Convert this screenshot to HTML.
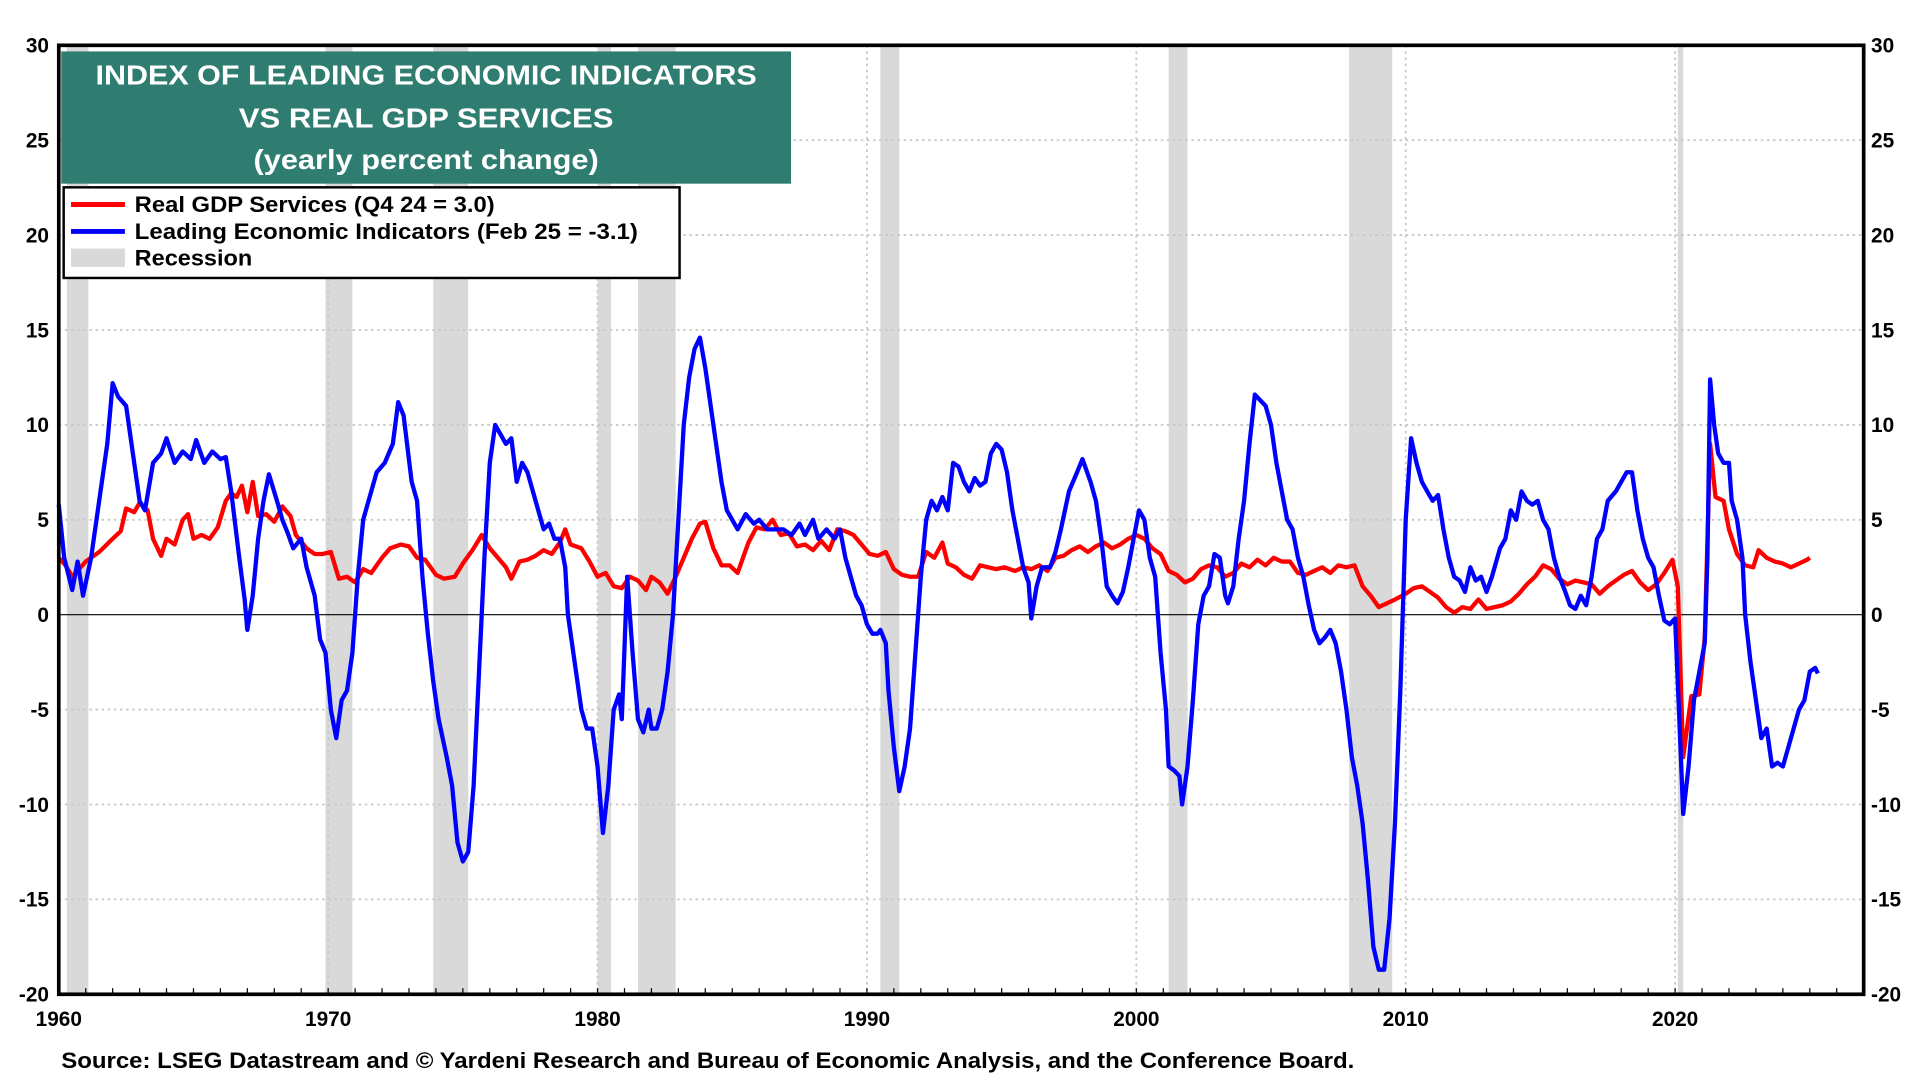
<!DOCTYPE html>
<html><head><meta charset="utf-8"><style>
html,body{margin:0;padding:0;background:#fff;}
svg{display:block;}
text{font-family:"Liberation Sans",Arial,sans-serif;font-weight:bold;}
</style></head><body>
<svg id="chart" width="1920" height="1080" viewBox="0 0 1568 882" preserveAspectRatio="none" xmlns="http://www.w3.org/2000/svg">
<g id="recessions"></g>
<g id="grid"></g>
<line x1="48" x2="1522" y1="502" y2="502" stroke="#000" stroke-width="1"/>
<g id="series"></g>
<rect x="48" y="37" width="1474" height="775" fill="none" stroke="#000" stroke-width="3"/>
<g id="axes"></g>
<g>
<rect x="50" y="42" width="596" height="108" fill="#2e7d70"/>
<text x="348" y="69" fill="#fff" font-size="23" text-anchor="middle" textLength="540" lengthAdjust="spacingAndGlyphs">INDEX OF LEADING ECONOMIC INDICATORS</text>
<text x="348" y="104" fill="#fff" font-size="23" text-anchor="middle" textLength="306" lengthAdjust="spacingAndGlyphs">VS REAL GDP SERVICES</text>
<text x="348" y="138" fill="#fff" font-size="23" text-anchor="middle" textLength="282" lengthAdjust="spacingAndGlyphs">(yearly percent change)</text>
</g>
<g>
<rect x="52" y="153" width="503" height="74" fill="#fff" stroke="#000" stroke-width="2"/>
<line x1="58" x2="102" y1="167" y2="167" stroke="#ff0000" stroke-width="4"/>
<text x="110" y="173" font-size="18" textLength="294" lengthAdjust="spacingAndGlyphs">Real GDP Services (Q4 24 = 3.0)</text>
<line x1="58" x2="102" y1="189" y2="189" stroke="#0000ff" stroke-width="4"/>
<text x="110" y="195" font-size="18" textLength="411" lengthAdjust="spacingAndGlyphs">Leading Economic Indicators (Feb 25 = -3.1)</text>
<rect x="58" y="203" width="44" height="15" fill="#d9d9d9"/>
<text x="110" y="217" font-size="18" textLength="96" lengthAdjust="spacingAndGlyphs">Recession</text>
</g>
<text x="50" y="872" font-size="18" textLength="1056" lengthAdjust="spacingAndGlyphs">Source: LSEG Datastream and © Yardeni Research and Bureau of Economic Analysis, and the Conference Board.</text>
</svg>
<script>
const recStart=[1960.3,1969.9,1973.9,1980.0,1981.5,1990.5,2001.2,2007.9,2020.1];
const recEnd=[1961.1,1970.9,1975.2,1980.5,1982.9,1991.2,2001.9,2009.5,2020.3];
const yTicks=[-20,-15,-10,-5,0,5,10,15,20,25,30];
const xTicks=[1960,1970,1980,1990,2000,2010,2020];
const leiDates=[1960.0,1960.2,1960.5,1960.7,1960.9,1961.2,1961.5,1961.8,1962.0,1962.2,1962.5,1962.8,1963.0,1963.2,1963.5,1963.8,1964.0,1964.3,1964.6,1964.9,1965.1,1965.4,1965.7,1966.0,1966.2,1966.4,1966.7,1966.9,1967.0,1967.2,1967.4,1967.6,1967.8,1968.1,1968.3,1968.5,1968.7,1969.0,1969.2,1969.5,1969.7,1969.9,1970.1,1970.3,1970.5,1970.7,1970.9,1971.1,1971.3,1971.5,1971.8,1972.1,1972.4,1972.6,1972.8,1973.1,1973.3,1973.5,1973.7,1973.9,1974.1,1974.4,1974.6,1974.8,1975.0,1975.2,1975.4,1975.6,1975.8,1976.0,1976.2,1976.4,1976.6,1976.8,1977.0,1977.2,1977.4,1977.6,1977.8,1978.0,1978.2,1978.4,1978.6,1978.8,1978.9,1979.2,1979.4,1979.6,1979.8,1980.0,1980.2,1980.4,1980.6,1980.8,1980.9,1981.1,1981.3,1981.5,1981.7,1981.9,1982.0,1982.2,1982.4,1982.6,1982.8,1983.0,1983.2,1983.4,1983.6,1983.8,1984.0,1984.2,1984.4,1984.6,1984.8,1985.0,1985.2,1985.5,1985.8,1986.0,1986.3,1986.6,1986.9,1987.2,1987.5,1987.7,1988.0,1988.2,1988.5,1988.8,1989.0,1989.2,1989.4,1989.6,1989.8,1990.0,1990.2,1990.4,1990.5,1990.7,1990.8,1991.0,1991.2,1991.4,1991.6,1991.8,1992.0,1992.2,1992.4,1992.6,1992.8,1993.0,1993.2,1993.4,1993.6,1993.8,1994.0,1994.2,1994.4,1994.6,1994.8,1995.0,1995.2,1995.4,1995.6,1995.8,1996.0,1996.1,1996.3,1996.5,1996.8,1997.0,1997.2,1997.5,1997.8,1998.0,1998.3,1998.5,1998.7,1998.9,1999.1,1999.3,1999.5,1999.7,1999.9,2000.1,2000.3,2000.5,2000.7,2000.9,2001.1,2001.2,2001.4,2001.6,2001.7,2001.9,2002.1,2002.3,2002.5,2002.7,2002.9,2003.1,2003.3,2003.4,2003.6,2003.8,2004.0,2004.2,2004.4,2004.6,2004.8,2005.0,2005.2,2005.4,2005.6,2005.8,2006.0,2006.2,2006.4,2006.6,2006.8,2007.0,2007.2,2007.4,2007.6,2007.8,2008.0,2008.2,2008.4,2008.6,2008.8,2009.0,2009.2,2009.4,2009.6,2009.8,2010.0,2010.2,2010.4,2010.6,2010.8,2011.0,2011.2,2011.4,2011.6,2011.8,2012.0,2012.2,2012.4,2012.6,2012.8,2013.0,2013.2,2013.5,2013.7,2013.9,2014.1,2014.3,2014.5,2014.7,2014.9,2015.1,2015.3,2015.5,2015.7,2015.9,2016.1,2016.3,2016.5,2016.7,2016.9,2017.1,2017.3,2017.5,2017.8,2018.0,2018.2,2018.4,2018.6,2018.8,2019.0,2019.2,2019.4,2019.6,2019.8,2020.0,2020.2,2020.3,2020.5,2020.7,2020.9,2021.1,2021.2,2021.3,2021.45,2021.6,2021.8,2022.0,2022.1,2022.3,2022.5,2022.6,2022.8,2023.0,2023.2,2023.4,2023.6,2023.8,2024.0,2024.2,2024.4,2024.6,2024.8,2025.0,2025.2,2025.3];
const leiValues=[5.8,3,1.3,2.8,1.0,3,6,9,12.2,11.5,11,8,6,5.5,8,8.5,9.3,8,8.6,8.2,9.2,8,8.6,8.2,8.3,6.5,3,0.8,-0.8,1,4,6,7.4,6,5,4.3,3.5,4,2.5,1,-1.3,-2,-5,-6.5,-4.5,-4,-2,2,5,6,7.5,8,9,11.2,10.5,7,6,2,-1,-3.5,-5.5,-7.5,-9,-12,-13,-12.5,-9,-3,3,8,10,9.5,9,9.3,7,8,7.5,6.5,5.5,4.5,4.8,4,4,2.5,0,-3,-5,-6,-6,-8,-11.5,-9,-5,-4.2,-5.5,2,-2,-5.5,-6.2,-5,-6,-6,-5,-3,0,5,10,12.5,14,14.6,13,11,9,7,5.5,5,4.5,5.3,4.8,5,4.5,4.5,4.5,4.2,4.8,4.2,5,4,4.5,4,4.5,3,2,1,0.5,-0.5,-1,-1,-0.8,-1.5,-4,-7,-9.3,-8,-6,-2,2,5,6,5.5,6.2,5.5,8,7.8,7,6.5,7.2,6.8,7,8.5,9,8.7,7.5,5.5,4,2.5,1.7,-0.2,1.5,2.5,2.5,3.3,4.5,6.5,7.5,8.2,7,6,4,1.5,1,0.6,1.2,2.5,4,5.5,5,3,2,-2,-5,-8,-8.2,-8.5,-10,-8,-4.5,-0.5,1,1.5,3.2,3,1,0.6,1.5,4,6,9,11.6,11.3,11,10,8,6.5,5,4.5,3,2,0.5,-0.8,-1.5,-1.2,-0.8,-1.5,-3,-5,-7.5,-9,-11,-14,-17.5,-18.7,-18.7,-16,-11,-4,5,9.3,8,7,6.5,6,6.3,4.5,3,2,1.8,1.2,2.5,1.8,2,1.2,2,3.5,4,5.5,5,6.5,6,5.8,6,5,4.5,3,2,1.3,0.5,0.3,1,0.5,2,4,4.5,6,6.5,7,7.5,7.5,5.5,4,3,2.5,1,-0.3,-0.5,-0.2,-7,-10.5,-8,-4.5,-3,-1.5,3,12.4,10,8.5,8,8,6,5,3,0,-2.5,-4.5,-6.5,-6,-8,-7.8,-8,-7,-6,-5,-4.5,-3,-2.8,-3.1];
const gdpDates=[1960.0,1960.25,1960.5,1960.75,1961,1961.5,1962,1962.3,1962.5,1962.8,1963,1963.3,1963.5,1963.8,1964,1964.3,1964.6,1964.8,1965,1965.3,1965.6,1965.9,1966.2,1966.4,1966.6,1966.8,1967,1967.2,1967.4,1967.7,1968,1968.3,1968.6,1968.8,1969.2,1969.5,1969.8,1970.1,1970.4,1970.7,1971,1971.3,1971.6,1972,1972.3,1972.7,1973,1973.3,1973.6,1974,1974.3,1974.7,1975,1975.4,1975.7,1976,1976.3,1976.6,1976.8,1977.1,1977.4,1977.7,1978,1978.3,1978.6,1978.8,1979,1979.4,1979.7,1980,1980.3,1980.6,1980.9,1981.2,1981.5,1981.8,1982.0,1982.3,1982.6,1982.9,1983.2,1983.5,1983.8,1984,1984.3,1984.6,1984.9,1985.2,1985.6,1985.9,1986.2,1986.5,1986.8,1987.1,1987.4,1987.7,1988,1988.3,1988.6,1988.9,1989.2,1989.5,1989.8,1990.1,1990.4,1990.7,1991,1991.3,1991.6,1991.9,1992.2,1992.5,1992.8,1993,1993.3,1993.6,1993.9,1994.2,1994.5,1994.8,1995.1,1995.5,1995.8,1996.1,1996.4,1996.7,1997,1997.3,1997.6,1997.9,1998.2,1998.5,1998.8,1999.1,1999.4,1999.7,2000,2000.3,2000.6,2000.9,2001.2,2001.5,2001.8,2002.1,2002.4,2002.7,2003,2003.3,2003.6,2003.9,2004.2,2004.5,2004.8,2005.1,2005.4,2005.7,2006,2006.3,2006.6,2006.9,2007.2,2007.5,2007.8,2008.1,2008.4,2008.7,2009,2009.3,2009.6,2010,2010.3,2010.6,2010.9,2011.2,2011.5,2011.8,2012.1,2012.4,2012.7,2013,2013.3,2013.6,2013.9,2014.2,2014.5,2014.8,2015.1,2015.4,2015.7,2016,2016.3,2016.6,2016.9,2017.2,2017.5,2017.8,2018.1,2018.4,2018.7,2019,2019.3,2019.6,2019.9,2020.1,2020.3,2020.6,2020.9,2021.1,2021.3,2021.5,2021.8,2022,2022.3,2022.6,2022.9,2023.1,2023.4,2023.7,2024,2024.3,2024.6,2024.9,2025];
const gdpValues=[3.0,2.6,2.0,2.4,2.8,3.3,4.0,4.4,5.6,5.4,5.9,5.5,4.0,3.1,4.0,3.7,5.0,5.3,4.0,4.2,4.0,4.6,6.0,6.4,6.2,6.8,5.4,7.0,5.2,5.3,4.9,5.7,5.2,4.2,3.5,3.2,3.2,3.3,1.9,2.0,1.7,2.4,2.2,3.0,3.5,3.7,3.6,3.0,2.9,2.1,1.9,2.0,2.7,3.5,4.2,3.5,3.0,2.5,1.9,2.8,2.9,3.1,3.4,3.2,3.8,4.5,3.7,3.5,2.8,2.0,2.2,1.5,1.4,2.0,1.8,1.3,2.0,1.7,1.1,2.0,3.0,4.0,4.8,4.9,3.5,2.6,2.6,2.2,3.8,4.6,4.5,5.0,4.2,4.3,3.6,3.7,3.4,3.9,3.4,4.5,4.4,4.2,3.7,3.2,3.1,3.3,2.4,2.1,2.0,2.0,3.3,3.0,3.8,2.7,2.5,2.1,1.9,2.6,2.5,2.4,2.5,2.3,2.5,2.4,2.6,2.3,3.0,3.1,3.4,3.6,3.3,3.6,3.8,3.5,3.7,4.0,4.2,4.0,3.5,3.2,2.3,2.1,1.7,1.9,2.4,2.6,2.5,2.0,2.2,2.7,2.5,2.9,2.6,3.0,2.8,2.8,2.2,2.1,2.3,2.5,2.2,2.6,2.5,2.6,1.5,1.0,0.4,0.6,0.8,1.1,1.4,1.5,1.2,0.9,0.4,0.1,0.4,0.3,0.8,0.3,0.4,0.5,0.7,1.1,1.6,2.0,2.6,2.4,1.9,1.6,1.8,1.7,1.6,1.1,1.5,1.8,2.1,2.3,1.7,1.3,1.6,2.2,2.9,1.5,-7.5,-4.3,-4.2,-1.2,9.0,6.2,6.0,4.5,3.2,2.6,2.5,3.4,3.0,2.8,2.7,2.5,2.7,2.9,3.0];

const NS='http://www.w3.org/2000/svg';
const X0=48,X1=1522,Y0=37,Y1=812,YMIN=-20,YMAX=30,XMIN=1960,XMAX=2027;
function xs(d){return X0+(d-XMIN)/(XMAX-XMIN)*(X1-X0);}
function ys(v){return Y1-(v-YMIN)/(YMAX-YMIN)*(Y1-Y0);}
function mk(tag,parent,attrs){const e=document.createElementNS(NS,tag);for(const k in attrs)e.setAttribute(k,attrs[k]);parent.appendChild(e);return e;}

const rg=document.getElementById('recessions');
recStart.forEach((s,i)=>{
  const r=mk('rect',rg,{x:xs(s),y:Y0,width:xs(recEnd[i])-xs(s),height:Y1-Y0,fill:'#d9d9d9'});
  
  
});
const gg=document.getElementById('grid');
yTicks.forEach(v=>{
  if(v===YMIN||v===YMAX||v===0)return;
  const l=mk('line',gg,{x1:X0,x2:X1,y1:ys(v),y2:ys(v),stroke:'#c8c8c8','stroke-width':1.5,'stroke-dasharray':'2 3'});
  
  
});
xTicks.forEach(d=>{
  if(d===XMIN)return;
  const l=mk('line',gg,{x1:xs(d),x2:xs(d),y1:Y0,y2:Y1,stroke:'#c8c8c8','stroke-width':1.5,'stroke-dasharray':'2 3'});
  
  
});
const sg=document.getElementById('series');
function path(dates,vals,color,name){
  let d='';dates.forEach((t,i)=>{d+=(i?'L':'M')+xs(t).toFixed(1)+' '+ys(vals[i]).toFixed(1);});
  const p=mk('path',sg,{d:d,fill:'none',stroke:color,'stroke-width':3.5,'stroke-linejoin':'round'});
  
  
}
path(gdpDates,gdpValues,'#ff0000','gdp-services-line');
path(leiDates,leiValues,'#0000ff','lei-line');
const ag=document.getElementById('axes');
yTicks.forEach(v=>{
  const t1=mk('text',ag,{x:40,y:ys(v)+6,'font-size':17,'text-anchor':'end'});t1.textContent=v;
  
  
  const t2=mk('text',ag,{x:1528,y:ys(v)+6,'font-size':17});t2.textContent=v;
  
  
});
for(let yr=1960;yr<=2026;yr++){
  const tk=mk('line',ag,{x1:xs(yr),x2:xs(yr),y1:Y1,y2:Y1-5,stroke:'#000','stroke-width':1});
  
  
}
xTicks.forEach(d=>{
  const t=mk('text',ag,{x:xs(d),y:838,'font-size':17,'text-anchor':'middle'});t.textContent=d;
  
  
});
</script>
</body></html>
